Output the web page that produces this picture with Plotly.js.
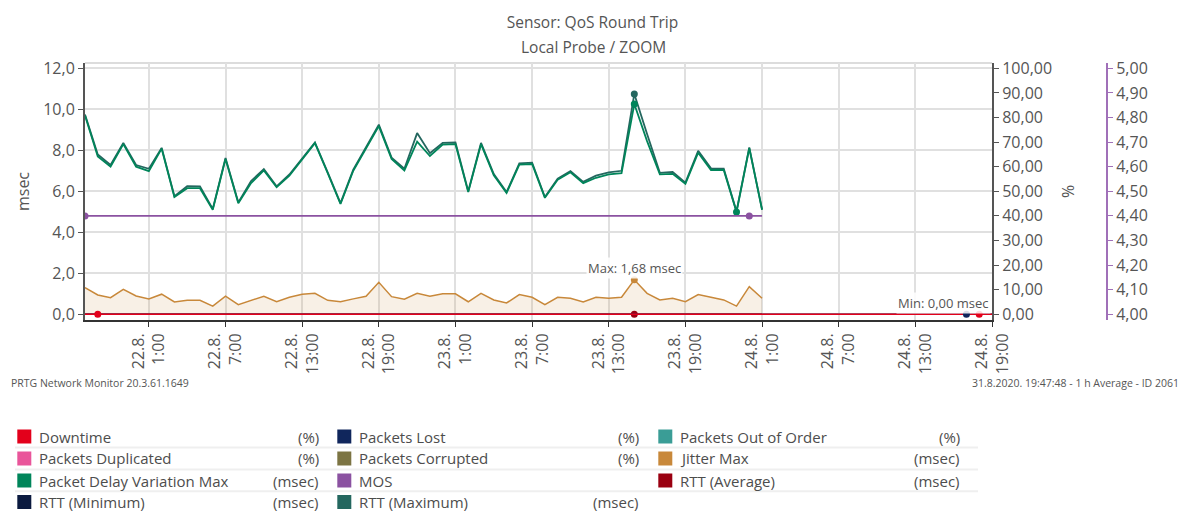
<!DOCTYPE html>
<html>
<head>
<meta charset="utf-8">
<script src="https://cdn.plot.ly/plotly-3.0.1.min.js"></script>
<style>
html,body{margin:0;padding:0;background:#fff;}
#chart{width:1184px;height:513px;}
</style>
</head>
<body>
<div id="chart"></div>
<script>
// ---------- data ----------
const startTime = Date.UTC(2020, 7, 21, 20, 0); // 21.8.2020 20:00, hourly averages
const rangeStart = '2020-08-21 20:00';
const rangeEnd = '2020-08-24 19:00';

const pdvMax = [9.70,7.70,7.20,8.30,7.20,6.98,8.08,5.72,6.15,6.15,5.10,7.58,5.42,6.40,7.02,6.20,6.76,7.58,8.35,6.88,
  5.38,7.00,8.12,9.18,7.58,7.02,8.42,7.72,8.28,8.30,5.96,8.30,6.78,5.92,7.30,7.33,5.68,6.56,6.93,6.40,
  6.66,6.83,6.88,10.26,8.45,6.83,6.85,6.36,7.88,7.04,7.04,4.99,8.10,5.09];
const rttMax = [9.75,7.80,7.28,8.36,7.28,7.10,8.12,5.76,6.25,6.24,5.14,7.62,5.46,6.50,7.08,6.24,6.82,7.62,8.38,6.92,
  5.42,7.06,8.18,9.25,7.64,7.10,8.84,7.86,8.36,8.38,6.00,8.36,6.84,5.96,7.36,7.40,5.72,6.62,6.98,6.46,
  6.76,6.92,7.00,10.75,8.80,6.90,6.94,6.42,7.98,7.12,7.10,5.02,8.14,5.12];
const jitterMax = [1.30,0.94,0.81,1.22,0.89,0.75,0.98,0.60,0.68,0.68,0.40,0.88,0.47,0.66,0.88,0.61,0.83,0.98,1.02,0.68,
  0.61,0.75,0.88,1.56,0.86,0.73,1.02,0.88,1.00,1.00,0.61,1.02,0.70,0.55,0.96,0.83,0.47,0.83,0.78,0.60,
  0.83,0.78,0.83,1.68,1.02,0.70,0.78,0.61,0.96,0.83,0.70,0.40,1.35,0.78];
const mos = [4.40,4.40,4.40,4.40,4.40,4.40,4.40,4.40,4.40,4.40,4.40,4.40,4.40,4.40,4.40,4.40,4.40,4.40,4.40,4.40,
  4.40,4.40,4.40,4.40,4.40,4.40,4.40,4.40,4.40,4.40,4.40,4.40,4.40,4.40,4.40,4.40,4.40,4.40,4.40,4.40,
  4.40,4.40,4.40,4.40,4.40,4.40,4.40,4.40,4.40,4.40,4.40,4.40,4.40,4.40];
const rttAvg = [0,0,0,0,0,0,0,0,0,0,0,0,0,0,0,0,0,0,0,0,0,0,0,0,0,0,0,0,0,0,
  0,0,0,0,0,0,0,0,0,0,0,0,0,0,0,0,0,0,0,0,0,0,0,0];
const downtime = [0,0,0,0,0,0,0,0,0,0,0,0,0,0,0,0,0,0,0,0,0,0,0,0,0,0,0,0,0,0,0,0,0,0,0,0,
  0,0,0,0,0,0,0,0,0,0,0,0,0,0,0,0,0,0,0,0,0,0,0,0,0,0,0,0,0,0,0,0,0,0,0,0];
const packetsLost = [0,0,0,0,0,0,0,0,0,0,0,0,0,0,0,0,0,0,0,0,0,0,0,0,0,0,0,0,0,0,0,0,0,0,0,0,
  0,0,0,0,0,0,0,0,0,0,0,0,0,0,0,0,0,0,0,0,0,0,0,0,0,0,0,0,0,0,0,0,0,0,0,0];

// highlighted points (min / max markers) per series, as indices into the series
const downtimeMarks = [1, 70];
const packetsLostMarks = [69];
const rttAvgMarks = [43];
const mosMarks = [0, 52];

const tickVals = ['2020-08-22 01:00','2020-08-22 07:00','2020-08-22 13:00','2020-08-22 19:00',
  '2020-08-23 01:00','2020-08-23 07:00','2020-08-23 13:00','2020-08-23 19:00',
  '2020-08-24 01:00','2020-08-24 07:00','2020-08-24 13:00','2020-08-24 19:00'];
const tickText = ['22.8.<br>1:00','22.8.<br>7:00','22.8.<br>13:00','22.8.<br>19:00',
  '23.8.<br>1:00','23.8.<br>7:00','23.8.<br>13:00','23.8.<br>19:00',
  '24.8.<br>1:00','24.8.<br>7:00','24.8.<br>13:00','24.8.<br>19:00'];

const legendNames = ['Downtime','Packets Lost','Packets Out of Order',
  'Packets Duplicated','Packets Corrupted','Jitter Max',
  'Packet Delay Variation Max','MOS','RTT (Average)',
  'RTT (Minimum)','RTT (Maximum)'];
const legendUnits = ['(%)','(%)','(%)','(%)','(%)','(msec)','(msec)','','(msec)','(msec)','(msec)'];
const legendColors = ['#e3001b','#10265c','#3a9d96','#e9559a','#7c7443','#c8883a',
  '#00855a','#8b52a1','#9a0011','#0b1a3f','#24675f'];

const titleText = 'Sensor: QoS Round Trip';
const subtitleText = 'Local Probe / ZOOM';
const footerLeft = 'PRTG Network Monitor 20.3.61.1649';
const footerRight = '31.8.2020. 19:47:48 - 1 h Average - ID 2061';

// ---------- helpers ----------
function hourStr(i){ return new Date(startTime + i*3600000).toISOString().slice(0,16).replace('T',' '); }
function times(n){ const a=[]; for(let i=0;i<n;i++) a.push(hourStr(i)); return a; }
function argMax(a){ let k=0; a.forEach((v,i)=>{ if(v>a[k]) k=i; }); return k; }
function argMin(a){ let k=0; a.forEach((v,i)=>{ if(v<a[k]) k=i; }); return k; }
function fmt(v){ return v.toFixed(2).replace('.', ','); }

const C = {pdv:'#00855a', rttMax:'#24675f', jitter:'#c8883a', mos:'#8b52a1', down:'#e3001b', lost:'#10265c', avg:'#9a0011'};

const xs = times(54);
const xsLong = times(72);

function markTrace(idx, xArr, yArr, color, yaxis){
  return {x: idx.map(i=>xArr[i]), y: idx.map(i=>yArr[i]), yaxis: yaxis||'y', type:'scatter', mode:'markers',
    marker:{color:color, size:7, symbol:'circle'}, hoverinfo:'skip'};
}

const traces = [
  {x: xs, y: jitterMax, type:'scatter', mode:'lines', fill:'tozeroy', fillcolor:'rgba(200,136,58,0.13)',
    line:{color:C.jitter, width:1.5}, hoverinfo:'skip'},
  {x: xs, y: rttAvg, type:'scatter', mode:'lines', line:{color:C.avg, width:1.5}, hoverinfo:'skip'},
  {x: xs, y: rttMax, type:'scatter', mode:'lines', line:{color:C.rttMax, width:1.8}, hoverinfo:'skip'},
  {x: xs, y: pdvMax, type:'scatter', mode:'lines', line:{color:C.pdv, width:1.8}, hoverinfo:'skip'},
  {x: xs, y: mos, yaxis:'y3', type:'scatter', mode:'lines', line:{color:C.mos, width:1.6}, hoverinfo:'skip'},
  {x: xsLong, y: packetsLost, yaxis:'y2', type:'scatter', mode:'lines', line:{color:C.lost, width:1.5}, hoverinfo:'skip'},
  {x: xsLong, y: downtime, yaxis:'y2', type:'scatter', mode:'lines', line:{color:C.down, width:1.6}, hoverinfo:'skip'},
  markTrace([argMax(jitterMax)], xs, jitterMax, C.jitter),
  markTrace([argMax(rttMax)], xs, rttMax, C.rttMax),
  markTrace([argMax(pdvMax), argMin(pdvMax)], xs, pdvMax, C.pdv),
  markTrace(rttAvgMarks, xs, rttAvg, C.avg),
  markTrace(mosMarks, xs, mos, C.mos, 'y3'),
  markTrace(packetsLostMarks, xsLong, packetsLost, C.lost, 'y2'),
  markTrace(downtimeMarks, xsLong, downtime, C.down, 'y2')
];

// ---------- layout ----------
const W = 1184, H = 513;
const M = {l:85, r:77, t:63, b:193};
const PW = W - M.l - M.r, PH = H - M.t - M.b;
const px = x => (x - M.l) / PW;
const py = y => (M.t + PH - y) / PH;
const plotRight = 992;

const textColor = '#555';
const annotations = [];
const shapes = [];

annotations.push({xref:'paper', yref:'paper', x:px(593), y:py(46.7), text:subtitleText, showarrow:false,
  xanchor:'center', yanchor:'middle', font:{size:15.5, color:textColor}});
annotations.push({xref:'paper', yref:'paper', x:px(9), y:py(382.5), text:footerLeft, showarrow:false,
  xanchor:'left', yanchor:'middle', font:{size:10.5, color:textColor}});
annotations.push({xref:'paper', yref:'paper', x:px(1181), y:py(382.5), text:footerRight, showarrow:false,
  xanchor:'right', yanchor:'middle', font:{size:10.5, color:textColor}});

// max / min labels
const jm = argMax(jitterMax);
annotations.push({x: xs[jm], y: jitterMax[jm], xref:'x', yref:'y', text:'Max: ' + fmt(jitterMax[jm]) + ' msec',
  showarrow:false, xanchor:'center', yanchor:'middle', yshift:12, bgcolor:'rgba(255,255,255,0.85)',
  font:{size:13, color:textColor}});
const pl = packetsLostMarks[0];
annotations.push({x: xsLong[pl], y: packetsLost[pl], xref:'x', yref:'y2', text:'Min: ' + fmt(packetsLost[pl]) + ' msec',
  showarrow:false, xanchor:'right', yanchor:'middle', yshift:11.5, xshift:25, bgcolor:'rgba(255,255,255,0.85)',
  font:{size:13, color:textColor}});

// legend table
const colSq = [17.3, 337.3, 658.3];
const colText = [36.7, 357.3, 678.3];
const colUnit = [320.5, 641, 962];
const rowY = [436.5, 458.5, 480.5, 502];
legendNames.forEach((name, k) => {
  const r = Math.floor(k/3), c = k%3;
  const y = rowY[r];
  shapes.push({type:'rect', xref:'paper', yref:'paper', x0:px(colSq[c]), x1:px(colSq[c]+14),
    y0:py(y-7), y1:py(y+7), fillcolor:legendColors[k], line:{width:0}});
  annotations.push({xref:'paper', yref:'paper', x:px(colText[c]), y:py(y), text:name, showarrow:false,
    xanchor:'left', yanchor:'middle', font:{size:15, color:'#4d4d4d'}});
  if (legendUnits[k]) annotations.push({xref:'paper', yref:'paper', x:px(colUnit[c]), y:py(y), text:legendUnits[k],
    showarrow:false, xanchor:'right', yanchor:'middle', font:{size:15, color:'#4d4d4d'}});
});
[447.5, 469.5, 491.2].forEach(y => shapes.push({type:'line', xref:'paper', yref:'paper',
  x0:px(15), x1:px(978), y0:py(y), y1:py(y), line:{color:'#efefef', width:2}}));

// top frame line
shapes.push({type:'line', xref:'paper', yref:'paper', x0:0, x1:px(plotRight), y0:1, y1:1,
  line:{color:'#dcdcdc', width:2}, layer:'below'});

const gridColor = '#e0e0e0';
const yMin = -0.28, yMax = 12.26;
const layout = {
  width:W, height:H,
  margin:{l:M.l, r:M.r, t:M.t, b:M.b, pad:0},
  separators:', ',
  paper_bgcolor:'#fff', plot_bgcolor:'#fff',
  font:{family:'"Open Sans", "Noto Sans", sans-serif', color:textColor, size:16},
  showlegend:false,
  title:{text:titleText, x:0.5004, xref:'container', xanchor:'center', y:1-23/H, yref:'container', yanchor:'middle',
    font:{size:15.5, color:textColor}},
  xaxis:{type:'date', domain:[0, px(plotRight)], range:[rangeStart, rangeEnd], tickmode:'array',
    tickvals:tickVals, ticktext:tickText, tickangle:-90, showgrid:true, gridcolor:gridColor, gridwidth:2,
    showline:true, linecolor:'#333', linewidth:2, ticks:'outside', ticklen:5, tickcolor:'#333',
    tickfont:{size:16, color:textColor}, zeroline:false, fixedrange:true},
  yaxis:{range:[yMin, yMax], tick0:0, dtick:2, tickformat:'.1f', showgrid:true, gridcolor:gridColor, gridwidth:2,
    showline:true, linecolor:'#555', linewidth:2, ticks:'outside', ticklen:5, tickcolor:'#555',
    zeroline:false, tickfont:{size:16, color:textColor},
    title:{text:'msec', font:{size:16, color:textColor}, standoff:10}},
  yaxis2:{overlaying:'y', side:'right', anchor:'x', range:[yMin/12*100, yMax/12*100], tick0:0, dtick:10,
    tickformat:'.2f', showgrid:false, zeroline:false, showline:true, linecolor:'#555', linewidth:2,
    ticks:'outside', ticklen:5, tickcolor:'#555', tickfont:{size:16, color:textColor},
    title:{text:'%', font:{size:16, color:textColor}, standoff:12}},
  yaxis3:{overlaying:'y', side:'right', anchor:'free', position:1, range:[4 + yMin/12, 4 + yMax/12], tick0:4, dtick:0.1,
    tickformat:'.2f', showgrid:false, zeroline:false, showline:true, linecolor:'#a070b8', linewidth:2,
    ticks:'outside', ticklen:5, tickcolor:'#a070b8', tickfont:{size:16, color:textColor}},
  annotations:annotations,
  shapes:shapes
};

Plotly.newPlot('chart', traces, layout, {staticPlot:true, displayModeBar:false});
</script>
</body>
</html>
